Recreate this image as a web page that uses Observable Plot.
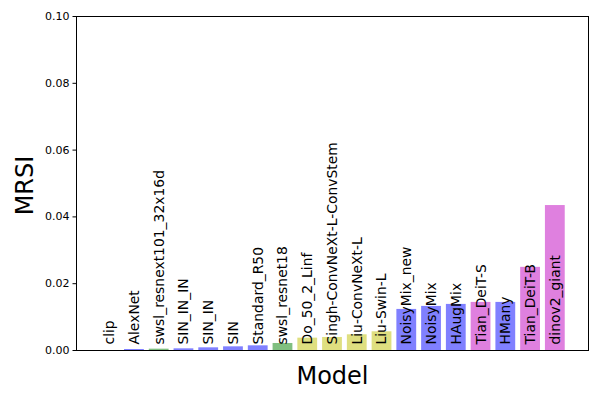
<!DOCTYPE html>
<html>
<head>
<meta charset="utf-8">
<script src="https://cdn.jsdelivr.net/npm/d3@7"></script>
<script src="https://cdn.jsdelivr.net/npm/@observablehq/plot@0.6"></script>
<style>
  html, body { margin: 0; padding: 0; background: #fff; }
  #chart svg { font-family: "DejaVu Sans", sans-serif; }
</style>
</head>
<body>
<div id="chart"></div>
<script>
const models = ["clip", "AlexNet", "swsl_resnext101_32x16d", "SIN_IN_IN", "SIN_IN", "SIN", "Standard_R50", "swsl_resnet18", "Do_50_2_Linf", "Singh-ConvNeXt-L-ConvStem", "Liu-ConvNeXt-L", "Liu-Swin-L", "NoisyMix_new", "NoisyMix", "HAugMix", "Tian_DeiT-S", "HMany", "Tian_DeiT-B", "dinov2_giant"];
const mrsi = [0.0000, 0.0003, 0.0004, 0.0005, 0.0008, 0.0011, 0.0014, 0.0021, 0.0037, 0.0039, 0.0047, 0.0056, 0.0123, 0.0132, 0.0138, 0.0144, 0.0144, 0.0249, 0.0434];
const groups = ["m", "b", "g", "b", "b", "b", "b", "g", "y", "y", "y", "y", "b", "b", "b", "m", "b", "m", "m"];
const groupColors = {b: "#8080ff", g: "#80bf80", y: "#dfdf80", m: "#df80df"};
const yTicks = [0, 0.02, 0.04, 0.06, 0.08, 0.10];

const data = models.map((m, i) => ({model: m, value: mrsi[i], group: groups[i]}));

const chart = Plot.plot({
  width: 600,
  height: 400,
  marginLeft: 76,
  marginRight: 12,
  marginTop: 16,
  marginBottom: 50,
  style: {fontFamily: "DejaVu Sans, sans-serif", background: "#fff", color: "#000"},
  x: {domain: models, paddingInner: 0.2, paddingOuter: 0.94, round: false, axis: null},
  y: {domain: [0, 0.10], axis: null},
  marks: [
    Plot.barY(data, {x: "model", y: "value", fill: d => groupColors[d.group]}),
    Plot.text(data, {x: "model", y: () => 0, text: "model", rotate: -90, textAnchor: "start", lineAnchor: "middle", dy: -6, fontSize: 13.9, fill: "#000"}),
    Plot.axisY({ticks: yTicks, tickFormat: d3.format(".2f"), tickSize: 3.5, tickPadding: 3.5, fontSize: 11, label: null, stroke: "#000"}),
    Plot.frame({stroke: "#000", strokeWidth: 1}),
    Plot.text(["MRSI"], {frameAnchor: "left", dx: -51, dy: 2, rotate: -90, textAnchor: "middle", fontSize: 24, fill: "#000", lineAnchor: "middle"}),
    Plot.text(["Model"], {frameAnchor: "bottom", dy: 33, textAnchor: "middle", fontSize: 24, fill: "#000", lineAnchor: "bottom"})
  ]
});
document.getElementById("chart").appendChild(chart);
</script>
</body>
</html>
